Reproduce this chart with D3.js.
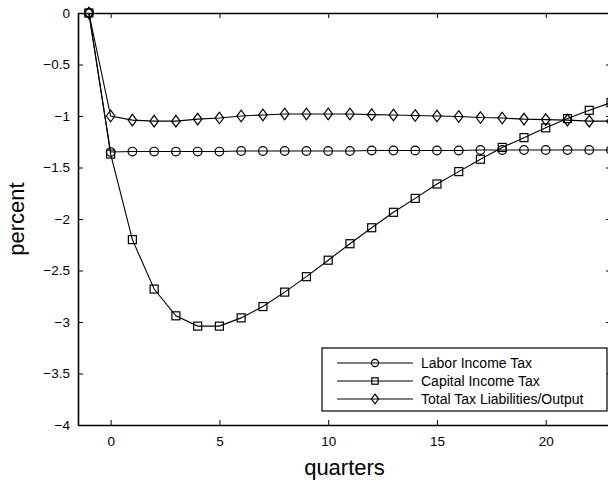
<!DOCTYPE html>
<html>
<head>
<meta charset="utf-8">
<script src="https://d3js.org/d3.v7.min.js"></script>
<style>
  body { margin: 0; background: #fff; }
  svg { display: block; font-family: "Liberation Sans", Arial, Helvetica, sans-serif; }
</style>
</head>
<body>
<div id="chart"></div>
<script>
// data
var quarters = [-1, 0, 1, 2, 3, 4, 5, 6, 7, 8, 9, 10, 11, 12, 13, 14, 15, 16, 17, 18, 19, 20, 21, 22, 23];
var laborTax = [0, -1.35, -1.345, -1.345, -1.345, -1.345, -1.345, -1.34, -1.34, -1.34, -1.34, -1.34, -1.34,
  -1.335, -1.335, -1.335, -1.335, -1.335, -1.33, -1.33, -1.33, -1.33, -1.33, -1.33, -1.33];
var capitalTax = [0, -1.37, -2.2, -2.68, -2.94, -3.04, -3.04, -2.96, -2.85, -2.71, -2.56, -2.40, -2.24,
  -2.085, -1.935, -1.80, -1.66, -1.54, -1.42, -1.305, -1.21, -1.115, -1.025, -0.945, -0.87];
var totalTax = [0, -1.0, -1.04, -1.05, -1.05, -1.03, -1.02, -1.0, -0.99, -0.98, -0.98, -0.98, -0.98,
  -0.987, -0.99, -0.995, -1.0, -1.005, -1.015, -1.02, -1.03, -1.035, -1.04, -1.05, -1.05];
var seriesNames = ["Labor Income Tax", "Capital Income Tax", "Total Tax Liabilities/Output"];
var xTicks = [0, 5, 10, 15, 20];
var yTicks = [0, -0.5, -1, -1.5, -2, -2.5, -3, -3.5, -4];

var width = 608, height = 487;
var margin = {left: 78, right: -3, top: 13, bottom: 62};

var svg = d3.select("#chart").append("svg").attr("width", width).attr("height", height);

var x = d3.scaleLinear().domain([-1.5, 23]).range([margin.left, width - margin.right]);
var y = d3.scaleLinear().domain([-4, 0]).range([height - margin.bottom, margin.top]);

var fmt = function(d){ return d3.format("")(d).replace("-", "\u2212"); };

// axes, ticks pointing inward like matlab
svg.append("g").attr("transform", "translate(0," + y(-4) + ")")
  .call(d3.axisBottom(x).tickValues(xTicks).tickSizeInner(-5).tickSizeOuter(0).tickPadding(11).tickFormat(fmt));
svg.append("g").attr("transform", "translate(0," + y(0) + ")")
  .call(d3.axisTop(x).tickValues(xTicks).tickSizeInner(-5).tickSizeOuter(0).tickFormat(""));
svg.append("g").attr("transform", "translate(" + x(-1.5) + ",0)")
  .call(d3.axisLeft(y).tickValues(yTicks).tickSizeInner(-5).tickSizeOuter(0).tickPadding(8).tickFormat(fmt));
svg.append("g").attr("transform", "translate(" + x(23) + ",0)")
  .call(d3.axisRight(y).tickValues(yTicks).tickSizeInner(-5).tickSizeOuter(0).tickFormat(""));

svg.selectAll(".domain").attr("stroke", "#000").attr("stroke-width", 1.6);
svg.selectAll(".tick line").attr("stroke", "#000").attr("stroke-width", 1);
svg.selectAll(".tick text").attr("fill", "#000").style("font-size", "13.5px")
  .style("font-family", "'Liberation Sans', Arial, sans-serif");

// axis labels
svg.append("text").attr("x", (x(-1.5) + x(23)) / 2).attr("y", 475)
  .attr("text-anchor", "middle").style("font-size", "22px").text("quarters");
svg.append("text").attr("transform", "translate(24," + ((y(0) + y(-4)) / 2) + ") rotate(-90)")
  .attr("text-anchor", "middle").style("font-size", "22px").text("percent");

// markers
function drawMarker(g, type, cx, cy, s) {
  if (type === "circle") {
    g.append("circle").attr("cx", cx).attr("cy", cy).attr("r", s)
      .attr("fill", "none").attr("stroke", "#000").attr("stroke-width", 1.2);
  } else if (type === "square") {
    g.append("rect").attr("x", cx - s).attr("y", cy - s).attr("width", 2 * s).attr("height", 2 * s)
      .attr("fill", "none").attr("stroke", "#000").attr("stroke-width", 1.2);
  } else {
    g.append("path").attr("d", "M" + cx + "," + (cy - s * 1.35) + "L" + (cx + s) + "," + cy +
      "L" + cx + "," + (cy + s * 1.35) + "L" + (cx - s) + "," + cy + "Z")
      .attr("fill", "none").attr("stroke", "#000").attr("stroke-width", 1.2);
  }
}

var series = [
  {name: seriesNames[0], values: laborTax, marker: "circle", size: 4.3},
  {name: seriesNames[1], values: capitalTax, marker: "square", size: 4},
  {name: seriesNames[2], values: totalTax, marker: "diamond", size: 4.3}
];

var line = d3.line().x(function(d){ return x(d[0]); }).y(function(d){ return y(d[1]); });

var plot = svg.append("g");
series.forEach(function(s){
  var pts = quarters.map(function(q, i){ return [q, s.values[i]]; });
  plot.append("path").datum(pts).attr("d", line)
    .attr("fill", "none").attr("stroke", "#000").attr("stroke-width", 1.1);
  pts.forEach(function(p){ drawMarker(plot, s.marker, x(p[0]), y(p[1]), s.size); });
});

// legend
var legend = svg.append("g");
legend.append("rect").attr("x", 322).attr("y", 348).attr("width", 285).attr("height", 63)
  .attr("fill", "#fff").attr("stroke", "#000").attr("stroke-width", 1.2);
series.forEach(function(s, i){
  var ly = 363 + i * 18;
  legend.append("line").attr("x1", 337).attr("x2", 413).attr("y1", ly).attr("y2", ly)
    .attr("stroke", "#000").attr("stroke-width", 1.1);
  drawMarker(legend, s.marker, 375, ly, s.marker === "square" ? 3.2 : 3.6);
  legend.append("text").attr("x", 421).attr("y", ly + 5).style("font-size", "14px").text(s.name);
});
</script>
</body>
</html>
